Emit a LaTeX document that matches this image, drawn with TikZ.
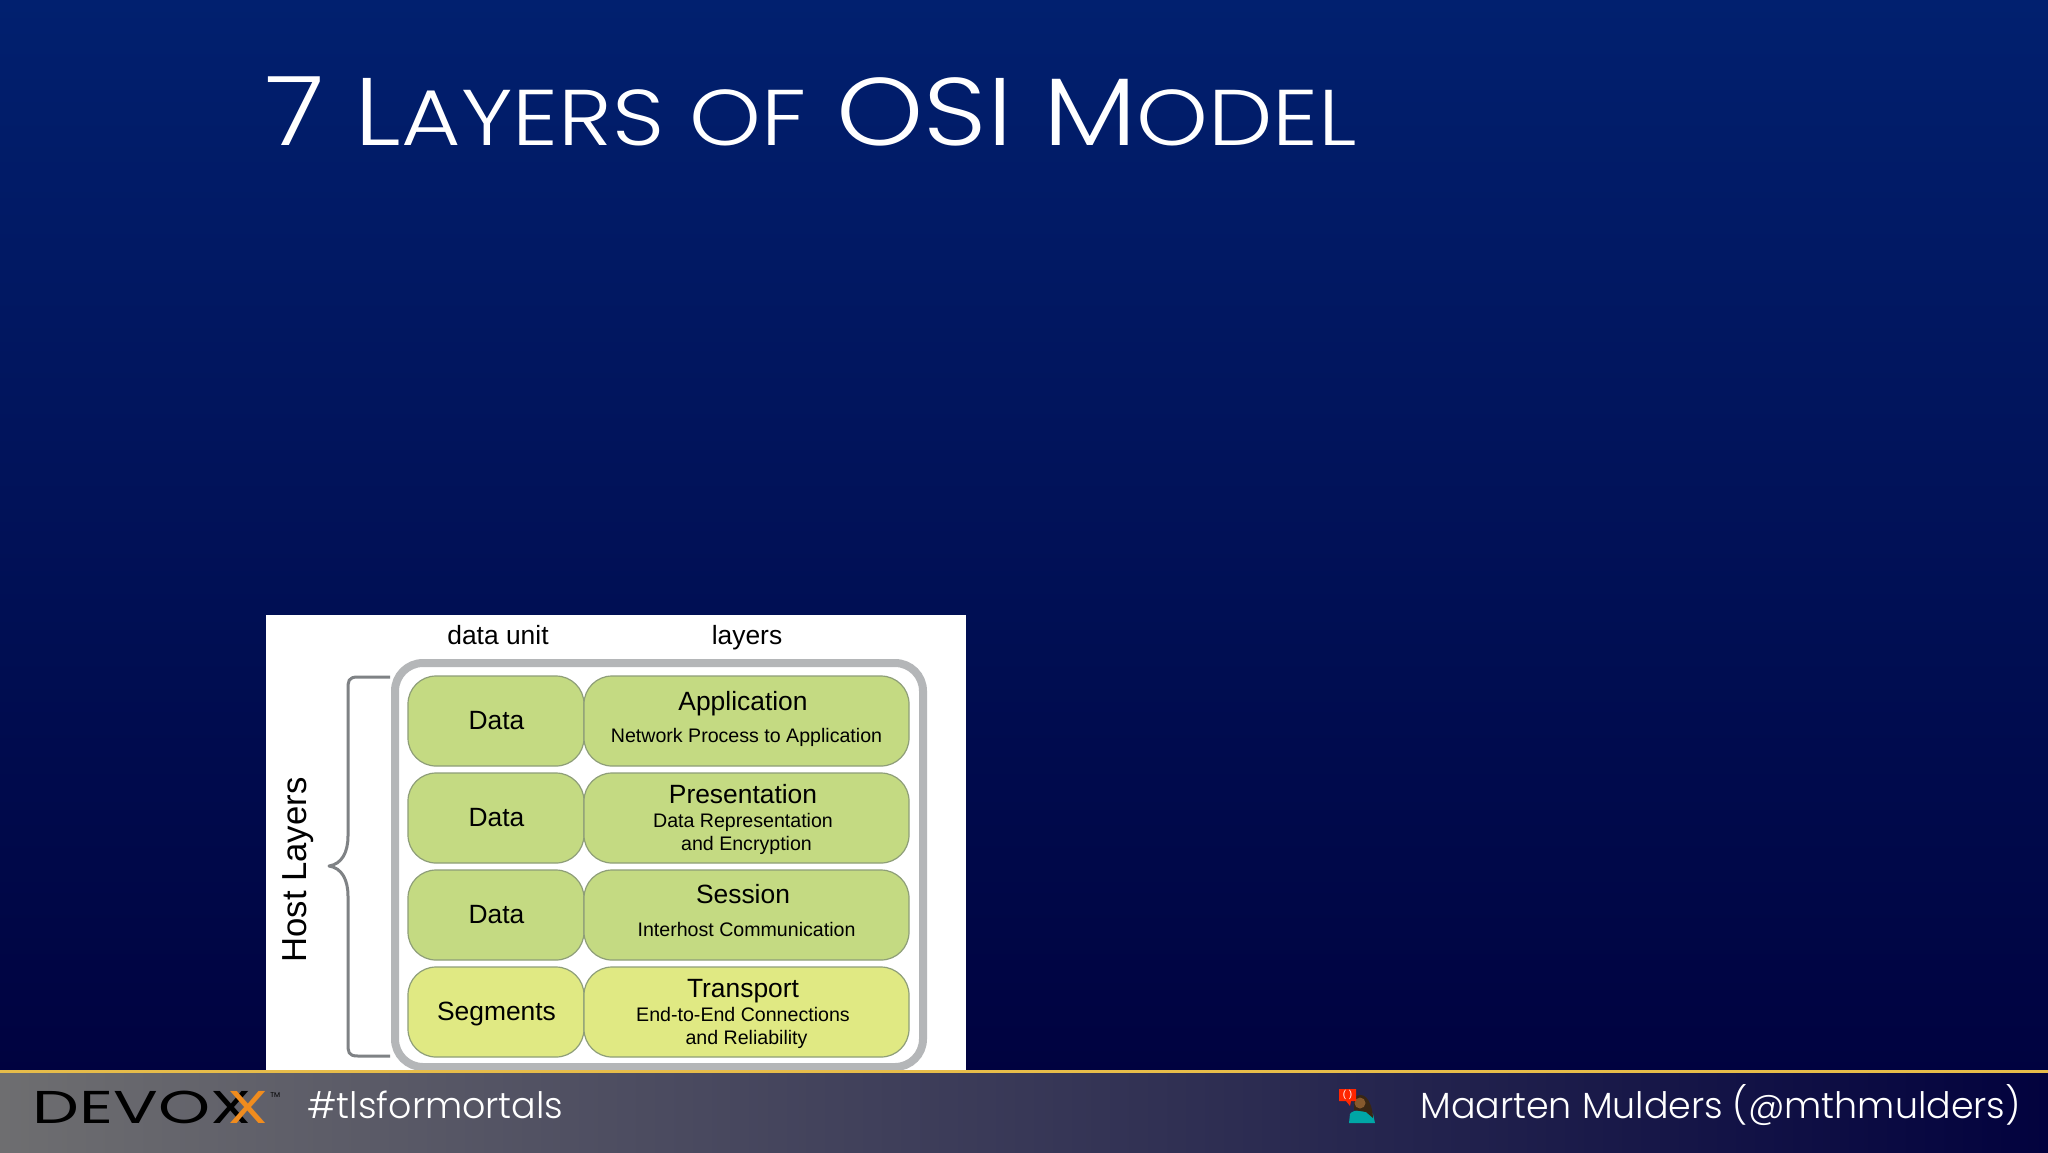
\documentclass[tikz,border=0pt]{standalone}
\usepackage{fontspec}
\setmainfont{Liberation Sans}
\newfontfamily\slidefont{Poppins Light}
\newfontfamily\logofont{Poppins}
\definecolor{navytop}{HTML}{01206F}
\definecolor{navymid}{HTML}{001259}
\definecolor{navylow}{HTML}{00003C}
\definecolor{greenbox}{HTML}{C4DA82}
\definecolor{limebox}{HTML}{E0E983}
\definecolor{boxline}{HTML}{8E9E78}
\definecolor{framegray}{HTML}{B4B6B8}
\definecolor{bracegray}{HTML}{7F8285}
\definecolor{footgold}{HTML}{E6BC4A}
\definecolor{footgray}{HTML}{6E6E70}
\definecolor{footnavy}{HTML}{02023E}
\definecolor{xorange}{HTML}{F08C1E}
\tikzset{
  layerbox/.style={draw=boxline, line width=0.6pt, rounded corners=14pt, minimum height=45pt, inner sep=0pt},
  unitbox/.style={layerbox, minimum width=88pt},
  namebox/.style={layerbox, minimum width=162.5pt},
  headtext/.style={anchor=base, font=\fontsize{13.2}{14}\selectfont},
  subtext/.style={anchor=base, font=\fontsize{9.8}{11}\selectfont},
  foottext/.style={anchor=base west, inner sep=0pt, text=white, font=\slidefont\fontsize{18.2}{20}\selectfont},
  logotext/.style={inner sep=0pt, xscale=1.44, transform shape, font=\logofont\fontsize{23}{24}\selectfont},
}
\newcommand{\titlesmall}{\fontsize{39.5}{40}\selectfont}
\begin{document}
\begin{tikzpicture}[x=0.5pt, y=-0.5pt]
  \useasboundingbox (0, 0) rectangle (2048, 1152);
  \shade[top color=navytop, middle color=navymid, bottom color=navylow] (0, 0) rectangle (2048, 1152);
  \node[anchor=base west, inner sep=0pt, text=white, xscale=1.155, transform shape, font=\slidefont\fontsize{48}{50}\selectfont] (title) at (265, 145) {7 L{\titlesmall AYERS OF} OSI M{\titlesmall ODEL}};

  \fill[white] (266, 615) rectangle (966, 1080);
  \draw[framegray, line width=4pt, rounded corners=14pt] (395, 663) rectangle (923, 1067);
  \draw[bracegray, line width=1.5pt, line join=round] (390, 677) -- (358, 677) .. controls (348, 677) and (348, 681) .. (348, 690) -- (348, 836) .. controls (348, 852) and (342, 864) .. (329, 866) .. controls (342, 868) and (348, 880) .. (348, 896) -- (348, 1043) .. controls (348, 1052) and (348, 1056) .. (358, 1056) -- (390, 1056);

  \node[headtext] (unithead) at (498, 644) {data unit};
  \node[headtext] (layerhead) at (747, 644) {layers};
  \node[rotate=90, anchor=base, font=\fontsize{17.35}{18}\selectfont] (hostlabel) at (306, 870) {Host Layers};

  \node[unitbox, fill=greenbox] (unitA) at (496, 721) {};
  \node[unitbox, fill=greenbox] (unitB) at (496, 818) {};
  \node[unitbox, fill=greenbox] (unitC) at (496, 915) {};
  \node[unitbox, fill=limebox] (unitD) at (496, 1012) {};
  \node[namebox, fill=greenbox] (nameA) at (746.5, 721) {};
  \node[namebox, fill=greenbox] (nameB) at (746.5, 818) {};
  \node[namebox, fill=greenbox] (nameC) at (746.5, 915) {};
  \node[namebox, fill=limebox] (nameD) at (746.5, 1012) {};

  \node[headtext] (unitAtext) at (496.5, 729) {Data};
  \node[headtext] (unitBtext) at (496.5, 826) {Data};
  \node[headtext] (unitCtext) at (496.5, 923) {Data};
  \node[headtext] (unitDtext) at (496.5, 1020) {Segments};

  \node[headtext] (appname) at (743, 710) {Application};
  \node[subtext] (appsub) at (746.5, 742) {Network Process to Application};
  \node[headtext] (prename) at (743, 803) {Presentation};
  \node[subtext] (presubA) at (743, 827) {Data Representation};
  \node[subtext] (presubB) at (746.5, 850) {and Encryption};
  \node[headtext] (sesname) at (743, 903) {Session};
  \node[subtext] (sessub) at (746.5, 936) {Interhost Communication};
  \node[headtext] (traname) at (743, 997) {Transport};
  \node[subtext] (trasubA) at (743, 1021) {End-to-End Connections};
  \node[subtext] (trasubB) at (746.5, 1044) {and Reliability};

  \shade[left color=footgray, right color=footnavy] (0, 1071) rectangle (2048, 1152);
  \fill[footgold] (0, 1070) rectangle (2048, 1073);

  \node[logotext, anchor=base west, text=black] (logo) at (32, 1123) {DEVOX};
  \node[logotext, anchor=base east, text=xorange] (logox) at (269, 1123) {X};
  \node[anchor=base west, inner sep=0pt, text=black, font=\logofont\fontsize{3.5}{4}\selectfont] (logotm) at (270, 1097) {TM};
  \node[foottext] (hashtag) at (307, 1118) {\#tlsformortals};
  \node[foottext] (speaker) at (1420, 1118) {Maarten Mulders (@mthmulders)};

  \fill[teal!70!cyan] (1349, 1123) -- (1350, 1114) .. controls (1352, 1109) and (1370, 1109) .. (1373, 1114) -- (1375, 1123) -- cycle;
  \fill[black!70!brown] (1354, 1098) .. controls (1362, 1090) and (1372, 1098) .. (1373, 1118) -- (1366, 1112) -- (1354, 1110) -- cycle;
  \fill[brown!70!black] (1360, 1103) circle (5.5);
  \fill[red!70!orange] (1339, 1101) -- (1339, 1089) -- (1356, 1089) -- (1356, 1101) -- (1351, 1101) -- (1350, 1106) -- (1346, 1101) -- cycle;
  \node[inner sep=0pt, text=white, font=\fontsize{5}{5}\selectfont] (bubble) at (1347.5, 1095) {( )};
\end{tikzpicture}
\end{document}
